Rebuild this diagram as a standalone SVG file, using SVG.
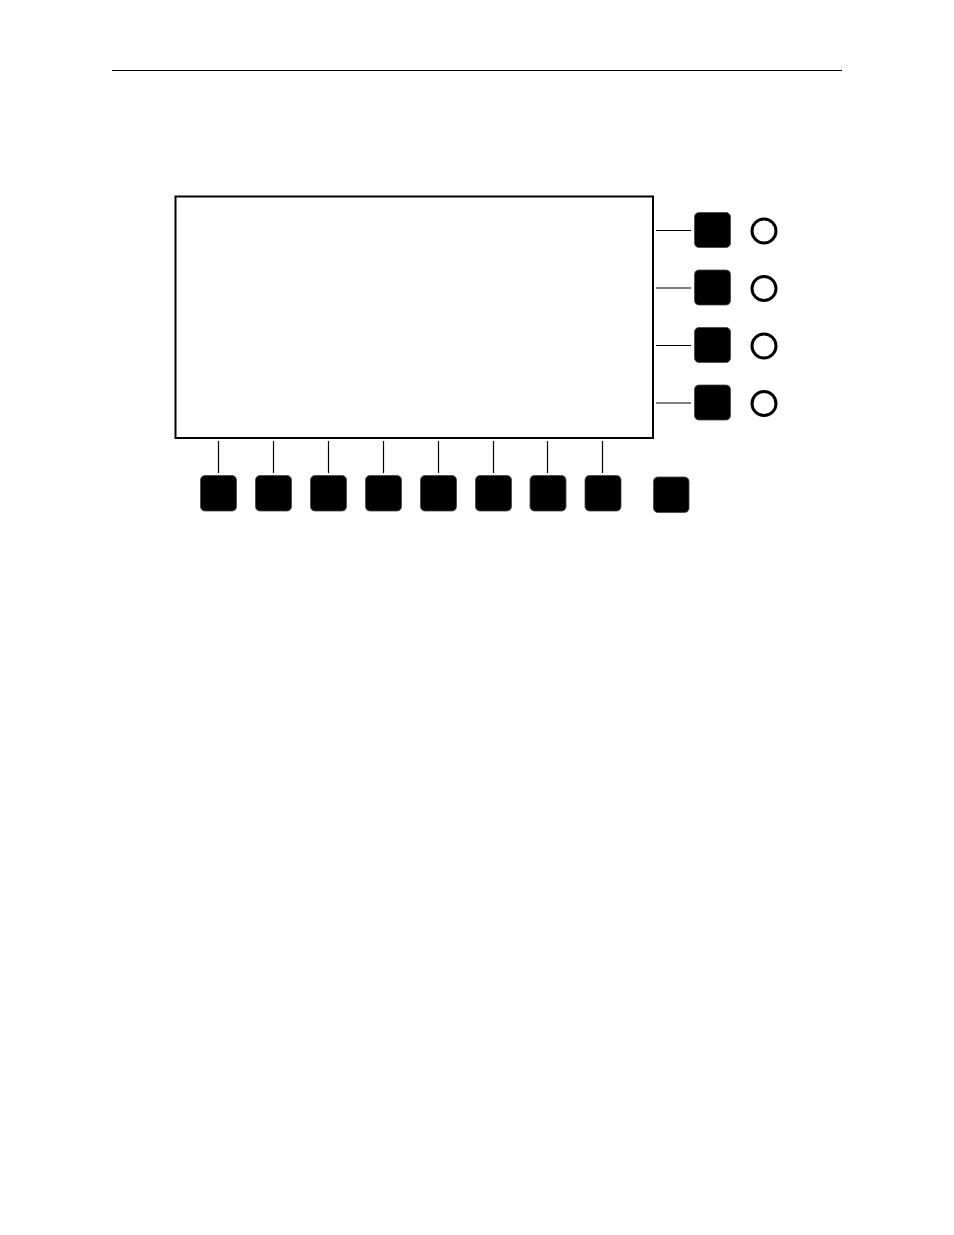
<svg xmlns="http://www.w3.org/2000/svg" width="954" height="1235" viewBox="0 0 954 1235">
<style>
.btn{fill:#000;stroke:#444;stroke-width:0.8}
.led{fill:#fff;stroke:#000;stroke-width:3}
.conn{stroke:#000;stroke-width:1.2;fill:none}
</style>
<rect width="954" height="1235" fill="#fff"/>
<line x1="112" y1="70.5" x2="842" y2="70.5" stroke="#000" stroke-width="1.2"/>
<g id="screen"><rect x="175.5" y="196.5" width="477.5" height="241.5" fill="#fff" stroke="#000" stroke-width="2"/></g>
<g id="connectors">
<line class="conn" x1="656" y1="230.5" x2="691" y2="230.5"/>
<line class="conn" x1="656" y1="288" x2="691" y2="288"/>
<line class="conn" x1="656" y1="345.5" x2="691" y2="345.5"/>
<line class="conn" x1="656" y1="403" x2="691" y2="403"/>
<line class="conn" x1="218.5" y1="441" x2="218.5" y2="473"/>
<line class="conn" x1="273.5" y1="441" x2="273.5" y2="473"/>
<line class="conn" x1="328.5" y1="441" x2="328.5" y2="473"/>
<line class="conn" x1="383.5" y1="441" x2="383.5" y2="473"/>
<line class="conn" x1="438.5" y1="441" x2="438.5" y2="473"/>
<line class="conn" x1="493.5" y1="441" x2="493.5" y2="473"/>
<line class="conn" x1="547.5" y1="441" x2="547.5" y2="473"/>
<line class="conn" x1="602.5" y1="441" x2="602.5" y2="473"/>
</g>
<g id="side-buttons">
<rect class="btn" x="694.5" y="212.5" width="36" height="35" rx="4.5"/>
<rect class="btn" x="694.5" y="270" width="36" height="35" rx="4.5"/>
<rect class="btn" x="694.5" y="327.5" width="36" height="35" rx="4.5"/>
<rect class="btn" x="694.5" y="385" width="36" height="35" rx="4.5"/>
</g>
<g id="leds">
<circle class="led" cx="764" cy="231" r="12"/>
<circle class="led" cx="764" cy="288.5" r="12"/>
<circle class="led" cx="764" cy="346" r="12"/>
<circle class="led" cx="764" cy="403.5" r="12"/>
</g>
<g id="bottom-buttons">
<rect class="btn" x="200.5" y="475.5" width="36" height="35.5" rx="4.5"/>
<rect class="btn" x="255.5" y="475.5" width="36" height="35.5" rx="4.5"/>
<rect class="btn" x="310.5" y="475.5" width="36" height="35.5" rx="4.5"/>
<rect class="btn" x="365.5" y="475.5" width="36" height="35.5" rx="4.5"/>
<rect class="btn" x="420.5" y="475.5" width="36" height="35.5" rx="4.5"/>
<rect class="btn" x="475.5" y="475.5" width="36" height="35.5" rx="4.5"/>
<rect class="btn" x="530" y="475.5" width="36" height="35.5" rx="4.5"/>
<rect class="btn" x="585" y="475.5" width="36" height="35.5" rx="4.5"/>
<rect class="btn" x="653.5" y="477" width="35.5" height="35.5" rx="4.5"/>
</g>
</svg>
